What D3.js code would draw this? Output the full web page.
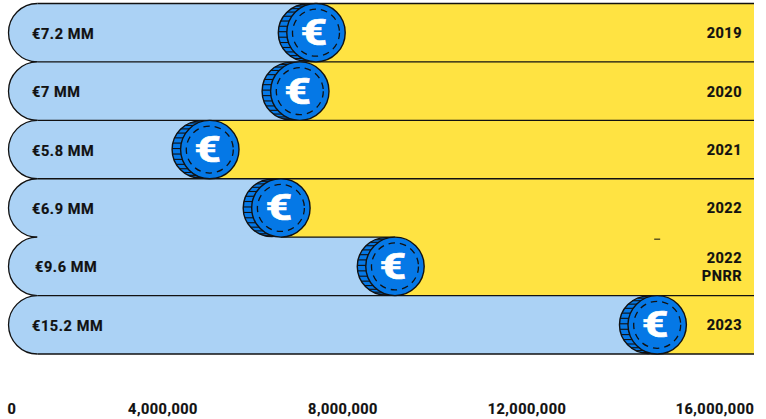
<!DOCTYPE html>
<html><head><meta charset="utf-8">
<script src="https://cdn.jsdelivr.net/npm/d3@7/dist/d3.min.js"></script>
<style>html,body{margin:0;padding:0;background:#fff}svg{display:block}text{font-family:Roboto,sans-serif;font-weight:700;fill:#111;stroke:#111;stroke-width:.2px}</style>
</head><body><svg id="c" width="766" height="419"></svg>
<script>
const categories=[["2019"],["2020"],["2021"],["2022"],["2022","PNRR"],["2023"]];
const valueLabels=["€7.2 MM","€7 MM","€5.8 MM","€6.9 MM","€9.6 MM","€15.2 MM"];
const coinValues=[7400000,7040000,5040000,6620000,9130000,14770000];
const tickValues=[0,4000000,8000000,12000000,16000000];
const BLUE="#abd2f5",YELLOW="#ffe342",COIN="#0578e6",INK="#111";

const plotLeft=8.5,plotRight=754,plotTop=3.5,plotBottom=354,capR=29;
const x=d3.scaleLinear().domain(tickValues).range([12,163,343,527,715]);
const y=d3.scaleBand().domain(d3.range(categories.length)).range([plotTop,plotBottom]);
const svg=d3.select("#c");
const bh=y.bandwidth();

svg.append("rect").attr("x",plotLeft+capR).attr("y",plotTop).attr("width",plotRight-plotLeft-capR).attr("height",plotBottom-plotTop).attr("fill",YELLOW);
const rows=svg.append("g").selectAll("g").data(coinValues).join("g");
function barPath(i){
  const v=coinValues[i],t=y(i),b=t+bh,cx=x(v);
  return `M${cx},${t}H${plotLeft+capR}A${capR},${bh/2} 0 0 0 ${plotLeft+capR},${b}H${cx}Z`;
}
rows.append("path").attr("d",(d,i)=>barPath(i)).attr("fill",BLUE);
svg.append("rect").attr("x",plotLeft+capR).attr("y",y(3)+bh-2).attr("width",x(coinValues[3])-plotLeft-capR).attr("height",4).attr("fill",BLUE);
rows.append("path").attr("d",(d,i)=>`M${plotLeft+capR},${y(i)}A${capR},${bh/2} 0 0 0 ${plotLeft+capR},${y(i)+bh}`).attr("fill","none").attr("stroke",INK).attr("stroke-width",1.3);
const lines=[[0,plotLeft+capR,plotRight],[1,plotLeft+capR,plotRight],[2,plotLeft+capR,plotRight],[3,plotLeft+capR,plotRight],
 [4,x(coinValues[3]),x(coinValues[4])],[5,plotLeft+capR,plotRight],[6,plotLeft+capR,plotRight]];
svg.append("g").selectAll("line").data(lines).join("line")
 .attr("x1",d=>d[1]).attr("x2",d=>d[2])
 .attr("y1",d=>plotTop+d[0]*bh).attr("y2",d=>plotTop+d[0]*bh)
 .attr("stroke",INK).attr("stroke-width",1.3);
svg.append("line").attr("x1",x(coinValues[5])-3).attr("x2",x(coinValues[5])+3).attr("y1",y(4)+2).attr("y2",y(4)+2).attr("stroke",INK).attr("stroke-width",1);
// coins
const coins=svg.append("g").selectAll("g").data(coinValues).join("g")
 .attr("transform",(d,i)=>`translate(${x(d)},${y(i)+bh/2})`);
const R=bh/2-.5;
coins.append("circle").attr("cx",-9).attr("r",R).attr("fill",COIN).attr("stroke",INK).attr("stroke-width",1.4);
coins.each(function(){
  const g=d3.select(this);
  d3.range(105,256,11).forEach(a=>{
    const t=a*Math.PI/180;
    g.append("line").attr("x1",-9+R*Math.cos(t)).attr("y1",R*Math.sin(t))
     .attr("x2",6+R*Math.cos(t)).attr("y2",R*Math.sin(t))
     .attr("stroke",INK).attr("stroke-width",1.1);
  });
});
coins.append("circle").attr("r",bh/2).attr("fill",COIN).attr("stroke",INK).attr("stroke-width",1.4);
coins.append("circle").attr("r",23.5).attr("fill","none").attr("stroke",INK).attr("stroke-width",1.3).attr("stroke-dasharray","6.5 5");
coins.append("text").text("€").attr("text-anchor","middle").attr("transform","translate(-2,12.5) scale(1.3,1)").style("font-size","36px").style("fill","#fff").style("stroke","#fff").style("stroke-width",".6px");
// value labels
svg.append("g").selectAll("text").data(valueLabels).join("text")
 .attr("x",(d,i)=>i==4?35:32).attr("y",(d,i)=>y(i)+bh/2+6).text(d=>d)
 .style("font-size","14.5px").style("letter-spacing",".6px");
// category labels
svg.append("g").selectAll("text").data(categories).join("text")
 .attr("text-anchor","end").attr("y",(d,i)=>y(i)+bh/2+(d.length>1?-3.5:5.5))
 .style("font-size","14.5px").style("letter-spacing",".5px")
 .selectAll("tspan").data(d=>d).join("tspan").attr("x",742).attr("dy",(d,i)=>i?18.5:0).text(d=>d);
// axis
svg.append("g").selectAll("text").data(tickValues).join("text")
 .attr("x",d=>x(d)).attr("y",413.5).attr("text-anchor","middle").text(d3.format(","))
 .style("font-size","14.5px").style("letter-spacing",".5px");
</script></body></html>
